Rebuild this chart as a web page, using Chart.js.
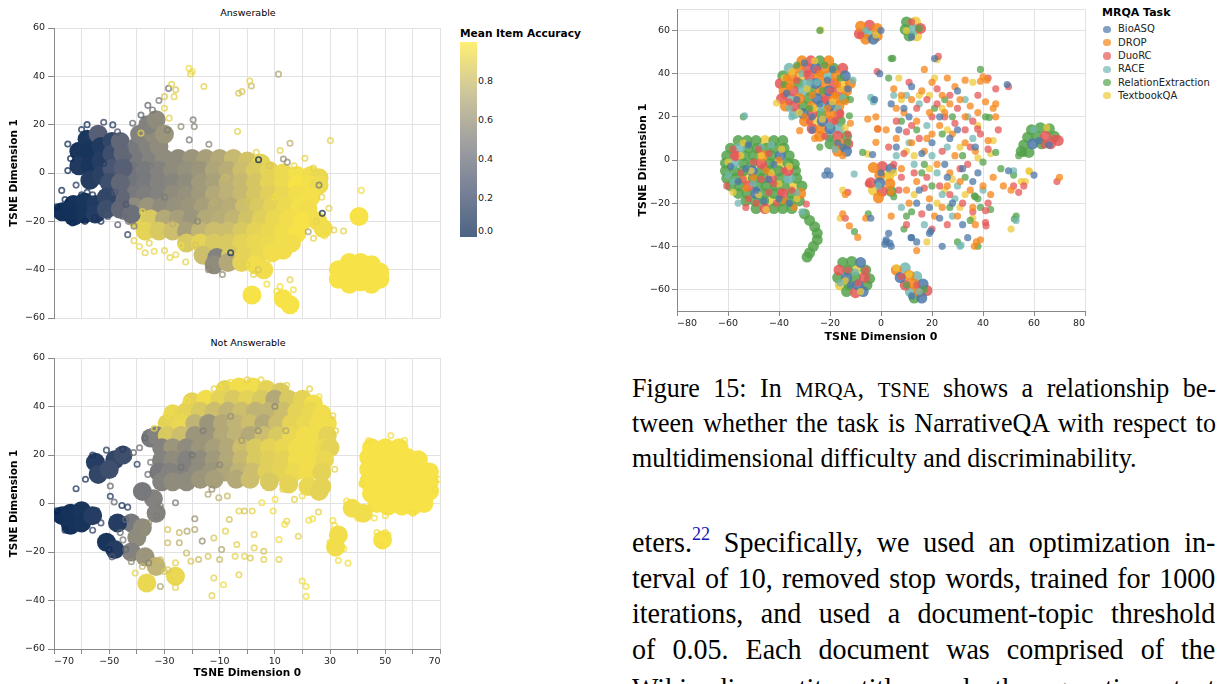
<!DOCTYPE html>
<html>
<head>
<meta charset="utf-8">
<script src="https://cdn.jsdelivr.net/npm/chart.js@4.4.1/dist/chart.umd.min.js"></script>
<style>
  body { margin: 0; background: #fff; width: 1219px; height: 684px; overflow: hidden; position: relative; }
  canvas { position: absolute; }
  .t { position: absolute; font-family: 'DejaVu Sans'; white-space: nowrap; color: #000; }
  .sub { font-size: 9.5px; width: 200px; text-align: center; line-height: 12px; }
  .tick { font-size: 9.5px; line-height: 12px; color: #222; }
  .line { position: absolute; left: 632px; width: 618px; height: 36px; line-height: 36px;
          font-family: 'Liberation Serif'; font-size: 27.5px; color: #000;
          transform: scaleX(0.945); transform-origin: 0 0;
          text-align: justify; text-align-last: justify; overflow: hidden; }
  .line.body { font-size: 29.5px; width: 614px; transform: scaleX(0.95); }
  .line.last { text-align-last: left; }
  .sc { font-size: 22px; }
  sup { font-size: 19px; color: #1515b8; vertical-align: 12px; line-height: 0; }
</style>
</head>
<body>
<div class="t sub" style="left:148px; top:7px;">Answerable</div>
<div class="t sub" style="left:148px; top:337px;">Not Answerable</div>
<canvas id="answerable" width="450" height="330" style="left:0; top:0;"></canvas>
<canvas id="notAnswerable" width="450" height="354" style="left:0; top:330px;"></canvas>
<canvas id="mrqa" width="480" height="350" style="left:612px; top:0;"></canvas>

<div class="t" style="left:460px; top:26px; font-size:10.6px; font-weight:bold; line-height:14px;">Mean Item Accuracy</div>
<div id="colorbar" style="position:absolute; left:460px; top:42px; width:17px; height:195px;"></div>
<div id="colorTicks"></div>

<div class="t" style="left:1102px; top:6px; font-size:11px; font-weight:bold; line-height:14px;">MRQA Task</div>
<div id="taskLegend"></div>

<div class="line" style="top:370px;">Figure 15: In <span class="sc">MRQA</span>, <span class="sc">TSNE</span> shows a relationship be-</div>
<div class="line" style="top:405px;">tween whether the task is NarrativeQA with respect to</div>
<div class="line last" style="top:440px;">multidimensional difficulty and discriminability.</div>
<div class="line body" style="top:524px;">eters.<sup>22</sup> Specifically, we used an optimization in-</div>
<div class="line body" style="top:559.7px;">terval of 10, removed stop words, trained for 1000</div>
<div class="line body" style="top:595.4px;">iterations, and used a document-topic threshold</div>
<div class="line body" style="top:631.1px;">of 0.05. Each document was comprised of the</div>
<div class="line body" style="top:670px;">Wikipedia entity title and the question text</div>

<script>
// ---- tick labels / categories ----
const leftYTicks = [-60, -40, -20, 0, 20, 40, 60];
const leftXLabels = [-70, -50, -30, -10, 10, 30, 50, 70];
const mrqaYTicks = [-70, -60, -40, -20, 0, 20, 40, 60, 70];
const accuracyTicks = [0.0, 0.2, 0.4, 0.6, 0.8];
const mrqaTasks = ['BioASQ', 'DROP', 'DuoRC', 'RACE', 'RelationExtraction', 'TextbookQA'];

// ---- Answerable: [x, y, mean accuracy] ----
const answerableDense = [
  -40,5,.45, -35,5,.5, -30,6,.55, -25,6,.55, -20,6,.6, -15,6,.65, -10,6,.7, -5,6,.78, 0,5,.82, 5,4,.9,
  -42,1,.42, -37,1,.45, -32,1,.5, -27,1,.55, -22,1,.58, -17,1,.6, -12,1,.68, -7,1,.72, -2,1,.8, 3,1,.86, 8,1,.9, 13,0,.93, 18,-1,.96, 23,-1,.95, 26,-2,.92,
  -42,-4,.42, -37,-4,.45, -32,-4,.5, -27,-4,.52, -22,-4,.55, -17,-4,.62, -12,-4,.66, -7,-4,.74, -2,-4,.78, 3,-4,.84, 8,-4,.9, 13,-4,.93, 18,-5,.97, 23,-5,.96, 26,-5,.94,
  -42,-9,.45, -37,-9,.48, -32,-9,.5, -27,-9,.55, -22,-9,.58, -17,-9,.62, -12,-9,.7, -7,-9,.74, -2,-9,.78, 3,-9,.84, 8,-9,.88, 13,-9,.92, 18,-9,.95, 23,-10,.96,
  -41,-14,.55, -36,-14,.6, -31,-14,.55, -26,-14,.58, -21,-14,.6, -16,-14,.65, -11,-14,.7, -6,-14,.72, -1,-14,.8, 4,-14,.85, 9,-14,.9, 14,-14,.93, 19,-14,.96, 22,-15,.95,
  -40,-19,.9, -35,-19,.85, -30,-19,.7, -25,-19,.65, -20,-19,.6, -15,-19,.7, -10,-19,.72, -5,-19,.76, 0,-19,.82, 5,-19,.88, 10,-19,.92, 15,-19,.95, 20,-20,.97,
  -37,-24,.9, -32,-24,.85, -27,-24,.8, -22,-24,.65, -17,-24,.75, -12,-24,.8, -7,-24,.8, -2,-24,.85, 3,-24,.9, 8,-24,.92, 13,-24,.95, 18,-25,.97,
  -22,-29,.85, -17,-29,.9, -12,-29,.85, -7,-29,.85, -2,-29,.9, 3,-29,.92, 8,-29,.93, 13,-29,.95, 16,-29,.95,
  -16,-34,.8, -11,-35,.5, -6,-34,.85, -1,-34,.9, 4,-34,.92, 9,-33,.95, 13,-32,.95,
  -12,-38,.55, -7,-37,.7, -2,-37,.9, 3,-38,.95, 6,-40,.95,
  -67,-16,.02, -63,-13,.03, -63,-18,.02, -59,-12,.05, -59,-17,.04, -55,-13,.08, -55,-17,.1,
  -61,9,.05, -61,3,.08, -58,14,.06, -57,9,.04, -57,3,.05, -57,-3,.1, -54,16,.3, -53,11,.08, -53,5,.1, -53,-1,.12,
  -49,13,.15, -49,8,.2, -49,2,.25, -50,-4,.2,
  -46,13,.35, -45,8,.35, -45,2,.3, -46,-4,.35, -46,-10,.35, -51,-10,.15, -51,-15,.2, -46,-15,.35, -42,-17,.4,
  -40,11,.45, -36,11,.5, -32,11,.55, -39,16,.5, -34,16,.55, -36,20,.5, -33,22,.55, -30,16,.6,
  40.5,-18,.97, 33,-40,.97, 33,-44,.97, 37,-37,.97, 37,-42,.97, 37,-46,.97, 41,-37,.97, 41,-41,.97, 41,-45,.97,
  45,-38,.97, 45,-42,.97, 45,-46,.97, 48,-41,.97, 48,-44,.97,
  1.7,-50.5,.97, 13,-52,.97, 15.5,-54.5,.97, 25.5,-20,.95, 27.5,-23,.95
];
const answerableRings = [
  -28.5,35,.45, -27.4,36.7,.9, -26.5,31.6,.9, -25.9,34.4,.85, -30,31.6,.85, -21.1,43.3,.95, -19.9,42,.95, -20.5,41,.9,
  -15.7,35.8,.9, -3.1,33,.85, -1.9,33.7,.85, 1.5,36,.8, 0.9,38.1,.9, 11.3,40.9,.7,
  -19.6,22,.5, -19.2,19.2,.55, -24,19.2,.6, -28.9,17.8,.5, -28.3,22.7,.9, -30,26.8,.9, -13.9,11.9,.55, -21,13.7,.5,
  -3.5,17.2,.9, -38.5,16.5,.9, -34.3,26.1,.45, -38.5,24,.35, -41.5,20.6,.4, -48.7,19.9,.1, -36,28,.4, -32,30,.5,
  15.5,12.3,.75, 30.1,13.4,.9, 11.9,9.3,.9, 20.9,6.1,.9, 13.1,5.8,.6, 14.5,4.5,.6, 3.3,8.6,.9, 4.1,5.5,.05,
  27.2,-16.7,.1, 22.1,-24.3,.7, 31.4,-23.6,.9, 34.9,-24,.9, 29.6,-14.6,.9, 41.3,-7.2,.95, 26,-5,.5, 28,-26,.95,
  24,-27,.9, 8,3,.85, 17,3,.92, 24,2,.9, 27,-10,.9, 25,-20,.9,
  7.1,-46,.95, 15.5,-44.2,.9, 11.9,-47,.95, 10.7,-49,.95, 16.7,-48.3,.95, 2.3,-42,.9, -0.1,-38,.9, -6,-33,.1,
  4,-40,.85, -9,-42,.6, -14,-40,.55,
  -39.1,-30.4,.92, -35.5,-29,.9, -33.7,-32.4,.92, -30,-32.1,.9, -25.9,-33.8,.92, -22.3,-36.8,.9, -18.7,-29.7,.85,
  -37,-33,.9, -28,-35,.92, -41,-28,.9, -24,-30,.95,
  -67.2,-7.2,.1, -63.3,-20.7,.05, -58.8,-20,.05, -55.3,-18.6,.1, -43.3,-25.5,.2, -46.9,-21.4,.35, -50.5,-18,.3,
  -43.9,-13,.3, -62,-5,.15, -65,1,.05, -64,6,.05, -58,20,.05, -52,21,.2, -47,17,.3, -45,-18,.4, -41,-22,.5,
  -43,-20,.45, -69,-14,.02, -66,-11,.05, -60,-9,.1, -56,-9,.15, -53,-20,.1, -65,12,.05, -60,18,.1,
  -35,3,.5, -24,-6,.6, -12,-12,.75, -30,-10,.5, -18,-20,.55, -8,-2,.8, 0,-12,.85, -38,-16,.9, -27,-21,.75, 10,-10,.95,
  -48,-8,.3, -52,4,.15, -44,10,.4, -58,-8,.1
];

// ---- Not Answerable: [x, y, mean accuracy] ----
const notAnswerableDense = [
  -67,-5,.02, -64,-4,.03, -64,-9,.03, -60,-3,.05, -60,-8,.04, -56,-5,.1,
  -48,18,.15, -45,20,.2, -55,17,.1, -54,12,.15, -50,14,.2,
  -42,-8,.45, -40,-14,.55, -42,-20,.5, -37,-22,.6, -33,-26,.75, -38,-10,.55, -47,-8,.1, -51,-16,.05, -48,-19,.1,
  -34,2,.5, -38,5,.45, -33,-4,.5, -35,27,.45, -36.4,-32.8,.92, -26,-30,.92,
  -8,47,.9, -3,48,.95, 2,48,.95, 7,47,.9, 12,46,.85,
  -20,42,.9, -15,43,.95, -10,43,.9, -5,43,.85, 0,43,.9, 5,43,.85, 10,43,.7, 15,43,.85, 20,43,.9, 24,41,.95,
  -27,37,.92, -22,38,.9, -17,38,.85, -12,38,.8, -7,38,.75, -2,38,.8, 3,38,.75, 8,38,.75, 13,38,.8, 18,38,.9, 23,38,.92, 27,37,.95,
  -29,33,.9, -24,33,.92, -19,33,.75, -14,33,.6, -9,33,.7, -4,33,.75, 1,33,.8, 6,33,.7, 11,33,.8, 16,33,.9, 21,33,.92, 26,33,.95, 29,33,.95,
  -33,28,.5, -29,28,.85, -24,28,.8, -19,28,.6, -14,28,.6, -9,28,.7, -4,28,.75, 1,28,.7, 6,28,.8, 11,28,.85, 16,28,.92, 21,28,.95, 26,28,.95, 29,28,.9,
  -31,23,.5, -27,23,.6, -22,23,.55, -17,23,.6, -12,23,.65, -7,23,.7, -2,23,.8, 3,23,.85, 8,23,.9, 13,23,.92, 18,23,.95, 23,23,.95, 28,23,.93, 30,23,.9,
  -31,18,.5, -27,18,.55, -22,18,.5, -17,18,.55, -12,18,.62, -7,18,.7, -2,18,.78, 3,18,.85, 8,18,.88, 13,18,.9, 18,18,.95, 23,18,.95, 28,18,.92,
  -32,13,.45, -28,13,.5, -23,13,.5, -18,13,.55, -13,13,.6, -8,13,.68, -3,13,.75, 2,13,.8, 7,13,.88, 12,13,.9, 17,13,.93, 22,13,.95, 27,13,.9,
  -31,9,.5, -27,9,.55, -22,9,.55, -17,10,.6, -12,10,.65, -4,10,.7, 1,10,.8, 8,9,.85, 15,8,.9, 22,7,.92, 27,7,.9,
  26,5,.9,
  45,23,.97, 50,23,.97, 55,23,.97,
  44,19,.97, 48,19,.97, 53,19,.97, 58,19,.97, 62,18,.97,
  44,14,.97, 48,14,.97, 53,14,.97, 58,14,.97, 63,14,.97, 66,13,.97,
  44,9,.97, 48,9,.97, 53,9,.97, 58,9,.97, 63,9,.97, 66,9,.97,
  45,4,.97, 49,4,.97, 54,4,.97, 59,4,.97, 63,4,.97, 66,5,.97,
  47,0,.97, 51,-1,.97, 56,-1,.97, 60,-1,.97, 64,0,.97,
  49,-15,.97, 38,-2,.95, 42,-4,.95, 33,-13,.95, 32,-18,.95
];
const notAnswerableRings = [
  -54.5,-3,.15, -53,-8,.2, -56,-11,.2, -66,-11,.05, -69,-3,.02, -58.6,10,.1, -62,6.1,.1, -49.6,7.2,.4,
  -49.6,3,.15, -48.2,0.6,.4, -45.4,-0.8,.05, -43.3,-1.5,.15, -39.9,16.2,.15, -41.2,21,.4, -45.1,22.4,.15,
  -44,-6.6,.4, -46,-12,.4, -44,-19,.4, -49,-22,.3, -42,-24,.6, -35.7,-24.5,.55, -31.5,-23.2,.8, -37,-12,.6,
  -35.7,-8,.6, -32.9,-5.2,.5, -31.5,-1,.5, -45,-15,.5, -50,-19,.05, -56,20,.1, -51,22,.15,
  -28.8,36.2,.95, -21.8,42.5,.95, -12,47.3,.9, -10,48,.95, -6,50,.95, 14.3,48.7,.9, 22.6,47.3,.9, 26,44,.95,
  31,36.2,.9, 32,30,.9, 31.7,14.1,.9, -37,27,.4, -39,23,.45, -33.7,31,.9, -25,37,.9, 0,51,.9, 5,51,.92,
  -36,12,.45, -35,17,.5,
  -40.6,-28.7,.9, -31.5,-34.2,.7, -26,-34.6,.9, -28.8,-27.3,.85, -38,-26,.8, -30,-28,.85,
  -14.2,3.8,.7, -10.3,2.4,.75, -7.2,3.1,.8, -12.8,5.9,.6, -26,0.3,.5, -19,-6.3,.6, -19,-10.7,.7, -24.6,-12,.8,
  -28.8,-10.7,.85, -28.8,-16.2,.8, -24.6,-16.2,.75, -21.8,-11.4,.7, -22,-20.4,.8, -20.4,-23.8,.85, -17.6,-23.1,.8,
  -26,-24.5,.9, -16.3,-15.5,.6, -12.1,-14.2,.85, -7.9,-11.4,.9, -6.5,-6.6,.85, -9.3,-19,.7, -10,-23.1,.8,
  -14.2,-21.8,.85, -12.1,-30.7,.9, -8.6,-33.5,.95, -12.8,-38,.9, -3,-3.1,.9, -1,-3.1,.85, 1.8,-3.1,.9,
  -3.8,-16.9,.9, -4.4,-21.8,.9, -3,-29.4,.9, 2.5,-12.8,.9, -1,-21.8,.9, 1.1,-22.5,.85, 2.5,-18.3,.9, 6,-19.7,.85,
  5.3,0.3,.95, 9.4,-3.1,.95, 10.1,1.7,.95, 14.3,-7.3,.9, 13.6,-8.6,.95, 18.5,-13.5,.9, 11.5,-14.9,.95,
  11.5,-23.1,.9, 6,-23.1,.9, 22.3,-6.9,.95, 23.7,-6.3,.95, 25.8,-3.5,.9, 19.9,-32,.95, 21.3,-34.2,.95,
  21.3,-38.3,.95, 17.1,1.7,.9, 19.9,3.1,.95, 12.9,5.9,.9,
  41.5,8,.95, 44,26,.95, 52,28,.95, 57,26,.95, 69.5,10,.95, 68,6,.95, 60,-4,.95, 50,-5,.95,
  35,-18.7,.95, 33,-23.5,.95, 36.5,-24.6,.95, 31,-7,.95, 31.5,-9,.95, 34,-15,.95, 30,-16,.95, 47,-12,.95,
  51,-13,.95, 36,1,.95, 46,-6,.95, 40,-6,.95, 44,-2,.95, 48,-17,.95, 50,-12,.95,
  -16,30,.5, -6,36,.6, 4,30,.6, -20,20,.45, -10,16,.55, 10,40,.55, 14,30,.7, -2,26,.65, -24,15,.45
];

// ---- MRQA: [x, y] per task; *Dense = packed cluster cores ----
const bioasqDense = [
  -25.5,42.5, -14,39, -25.5,35.5, -20.5,32, -25,28.5, -20,25, -30.5,21.5, -23,18, -20,14.5, -13.5,4,
  -50.5,-5, -49,-15.5, -39.5,2,
  -3,56, -8,-47.5, -13.5,-54.5, -9,-58, -7,-61, 7.5,-54.5, 16.5,-57.5, 16,-64, 4,-4, -0.5,-10.5, 59.5,7.5
];
const dropDense = [
  -31,46, -20.5,46, -32.5,42.5, -22,42.5, -35,39, -24.5,39, -17.5,39, -36,35.5, -22,35.5, -12,35.5, -38,32, -24,32,
  -13.5,32, -32,28.5, -18,28.5, -37.5,25, -27,25, -16.5,25, -20,21.5, -30,18, -23.5,14.5, -24,11, -16.5,7.5, -17,4,
  -46.5,2, -31.5,-15.5,
  -8,62, -1.5,61, -1.5,57.5, -6,56, 6,-51, 11,-53.5, 13,-57.5, 15,-61, -3,-3.5, -0.5,-7, 3.5,-11, -1,-17.5
];
const duorcDense = [
  -27.5,46, -29,42.5, -15,42.5, -28,39, -39.5,35.5, -18.5,35.5, -34.5,32, -17,32, -39,28.5, -21.5,28.5, -34,25,
  -27,21.5, -16.5,21.5, -19.5,18, -27,14.5, -17,11, -13,7.5,
  -57,2, -47,-1.5, -43,-8.5, -52,-12, -38.5,-15.5, -45.5,-22.5, -36.5,-5,
  -4.5,62.5, -8.5,58.5, 15.5,61, -16.5,-51, -6.5,-54.5, -10,-61.5, 9.5,-58, 18,-60.5, 0.5,-3, -4,-10.5, 0.5,-14.5,
  64.5,11, 66.5,7.5, 69.5,9
];
const raceDense = [
  -36,42.5, -21,39, -29,35.5, -31,32, -35.5,28.5, -23.5,25, -34,21.5, -16.5,14.5, -20.5,11,
  -55.5,5.5, -36,-8.5, -57.5,-1.5,
  -5,58.5, 13,60.5, 9.5,-50, 14,-54, 11.5,-61
];
const relexDense = [
  -24,46, -18.5,42.5, -38.5,39, -32.5,35.5, -27.5,32, -28.5,28.5, -14.5,28.5, -30.5,25, -23.5,21.5, -16,18, -13.5,11, -20,7.5,
  -56,9, -52.5,9, -49,9, -42,9, -38.5,9,
  -59,5.5, -52,5.5, -48.5,5.5, -45,5.5, -41.5,5.5, -38,5.5,
  -60.5,2, -53.5,2, -50,2, -43,2, -36,2,
  -61,-1.5, -54,-1.5, -50.5,-1.5, -43.5,-1.5, -36.5,-1.5, -34,-2,
  -61,-5, -57.5,-5, -54,-5, -47,-5, -43.5,-5, -40,-5, -33.5,-5,
  -60.5,-8.5, -57,-8.5, -50,-8.5, -46.5,-8.5, -39.5,-8.5, -33,-8.5,
  -59,-12, -55.5,-12, -48.5,-12, -45,-12, -41.5,-12, -38,-12, -31,-12,
  -56,-15.5, -52.5,-15.5, -45.5,-15.5, -42,-15.5, -35,-15.5,
  -53,-19, -49.5,-19, -46,-19, -39,-19, -35.5,-19, -32,-19,
  -49,-22.5, -42,-22.5, -38.5,-22.5, -35,-22.5,
  -30,-25, -28,-28, -26,-31, -25,-34, -25,-37, -26.5,-40, -28,-43, -29,-45,
  10,64, 9.5,60.5, 11,57.5,
  -15,-47.5, -11.5,-47, -13,-51, -6,-51, -17,-54.5, -10,-54.5, -4.5,-55, -12.5,-58, -5.5,-58, -13.5,-61, 13,-64,
  4,-14.5,
  59,14, 62.5,15, 66,14.5, 57.5,10.5, 61,11, 68,11, 56,7, 63,7.5, 55,4, 58,3.5
];
const textbookDense = [
  -31.5,39, -15,35.5, -26.5,18,
  -45.5,9, -53.5,-8.5, -40,-1.5, -42.5,-19, -34.5,-12,
  13.5,64, 14,57.5, -9.5,-51, -16,-58, 3,-7.5, -3,-14
];

const bioasqPoints = [
  -56,-10, -46,-19, -42,-2, -52,7, -36,-20, -59,-3, -49,-14, -44,-9, -53,-4, -40,-18,
  -30,45, -37,31, -24,26, -13,33, -27,14, -17,8, -21,37, -33,28, -19,42, -27,20, -15,6,
  -0.5,40, -2.5,28, -3.3,2.5, -21,-5, -20,-7, -22,-7, -4,-27, 21,47, 49.5,35, 62,9, 66,7, -12,-58, 12,-63, 12,57, 0,60, 0,-6,
  2,-37, 3.5,-38.5, 1.5,-39,
  4,26, 7,14, 11,20, 15,-14, 19,-22, 23,-27, 28,-20, 32,-4, 20,8, 25,-2, 16,3, 38,-6, 3,-34, 2,-38, 4,-40, 12,-36,
  19,-34, 24,-40, 32,-30, 37,6, 9,24, 27,10, 60,-7, 50,-5, 12,34, 30,32, 14,-38, 34,-36, 19.5,-33, 11.8,-36,
  6,6, 23,20, 30,14, 14,-20, 36,-10, 26,-8
];
const dropPoints = [
  -45,-5, -53,-13, -40,0, -34,-22, -50,-8, -38,-19,
  -31.9,13.6, -37,38, -27,30, -17,35, -21,24, -15,2, -12,17, -36,34, -24,40, -18,30, -30,20, -26,10, -14,27,
  -5.2,19, -1.3,14.4, -2,8.2, -14,-16, -15,-25, -12.4,-30.5, -9.1,-35.9, -6,-27, 40,38.5, 41.5,37, 39,36.5, 4,-15,
  5,33, 8,30, 12,28, 16,32, 20,36, 24,30, 27,26, 31,28, 35,25, 38,22, 41,27, 44,24, 9,22, 14,18, 19,22, 23,16,
  28,12, 33,8, 37,4, 12,8, 17,4, 22,-2, 27,-6, 31,-10, 35,-14, 40,-12, 43,-16, 8,-4, 14,-10, 19,-18, 24,-22,
  30,-26, 37,-30, 39,-37, 14,-42, 4,-26, 11,-20, 2,14, 6,10, 26,38, 33,37, 45,20, 44,-8, 29,2, 20,12, 25,22,
  -2,20, 48,-12, 70,-8, 36,-22, 17,42, 51,-14, 45,26, 42,9, 37.4,-38, 36.6,-40,
  6,24, 18,10, 26,-12, 33,20, 21,-26, 10,-14, 29,34
];
const duorcPoints = [
  -60.5,-12, -55,-6, -50,-1, -47,-9, -44,-15, -52,-18, -41,-20, -57,2, -38,-5, -29.3,-20.4, -48,5, -35,-14, -53,-22, -44,3,
  -58,5, -46,-3, -39,-15, -54,-9, -42,-11, -49,-20,
  -33,37, -25,42, -20,32, -36,27, -16,22, -28,18, -22,11, -29,40, -22,28, -38,30, -18,18, -13,12,
  -1.5,41, -1.3,14.4, -13,-15, -14,-27, 22.5,48, 42,38, 50,34, 68,10, 64,7, -13,-51, -9,-57, -6,-51, 8,-54, 14,-58,
  -8,58, 12,64, -5,-11,
  3,6, 6,18, 10,13, 14,24, 18,28, 22,33, 25,20, 29,17, 33,14, 36,18, 39,12, 42,5, 5,-2, 9,3, 13,-6, 18,-8,
  23,-12, 27,-16, 32,-20, 36,-24, 41,-29, 16,-25, 20,-32, 24,4, 30,24, 38,30, 42,-20, 10,-30, 7,-14, 26,-30,
  34,-2, 15,10, 20,20, 45,33, 52,-12, 54,-15, 56,-12, 69,-10, 46,14, 11,36, 37.9,14.4, 41,-23.5, 41.2,-30.5,
  12,16, 27,30, 31,-4, 17,-13, 8,-8, 35,6, 22,26
];
const racePoints = [
  -50,-11, -43,7, -37,-9, -56,-20, -31,-24, -60,-7, -47,6, -58,-10, -33,-15,
  -31,40, -25,36, -15,29, -35,20, -20,16, -11,37, -18,5, -28,36, -36,24, -17,24,
  -53.5,20.5, -3,27, -10.5,-6.5, -6,60, 15,-61, -1,-12, -10,-52, -16,-57, 60,14, -4,29,
  6,2, 13,-2, 18,16, 22,-6, 26,6, 30,-12, 34,20, 28,-26, 31,-40, 10,30, 17,-30, 40,-14, 53,-28, -3,28, 15,26,
  36,10, 8,-22, 24,-16, 31.4,-39.4, 52,-5,
  20,2, 11,8, 29,-18, 33,28, 5,30
];
const relexPoints = [
  -38,35, -22,44, -28,24, -12,28, -24,6, -12.4,20.5, -16,38, -13,8, -33,44, -23,32, -20,10,
  -24,60, -54,20, -7.2,3.5, -10.4,-33.2, -5,-25, 4.6,47.1, 17,-60, 10,-58, 15,61,
  4,47, 8,18, 12,-24, 17,-2, 21,24, 27,-22, 33,-8, 37,-17, 39,-22, 43,-23, 39,42, 41,20, 40,-1, 47,-4, 52,-7,
  38,-40, 9,-32, 5,-17, 3,38, 30,-38, 20,-12, 14,14, 25,28, 32,2, 53,-26, 56,3, 36.6,-16.6, 38,-18, 52.3,-27.4,
  45,3.5, 42.5,19.8, 55.6,3.5, 54,2,
  24,12, 16,-6, 35,-28, 10,-26, 28,20
];
const textbookPoints = [
  -54,8, -47,2, -40,-11, -58,-15, -45,-23, -39,5, -51,-5, -33,-18, -60,-1, -43,-6, -48,-16, -36,-3, -55,2,
  -35,41, -29,33, -19,27, -23,19, -14,15, -32,22, -41,26.4, -26,46, -26,24, -38,38, -16,33,
  -23.6,60.3, -5.2,2.8, -15,-14, -16,-27, 22,46.5, -2,58, 10,60, 65,15, -14,-56, -8,-61, 6,-50, 11,-53, 3,-7,
  7,38, 10,4, 15,30, 19,-4, 24,24, 28,-9, 33,-16, 38,1, 43,3, 36,36, 31,6, 22,-20, 13,-16, 26,14, 44,9,
  55,-10, 58,-5, 51,-32, 5,-6, 8,28, 18,-38, 36,-27, 21,38, 56.6,-10, 58.2,-5.4,
  19,30, 13,2, 31,-22, 25,-14, 38,16
];

// ---- styling helpers ----
const FONT = 'DejaVu Sans';
Chart.defaults.font.family = FONT;
const cividisStops = [
  [0.00, 0, 34, 78],
  [0.25, 65, 77, 107],
  [0.50, 124, 123, 120],
  [0.75, 188, 175, 111],
  [1.00, 254, 232, 56]
];
const taskColors = ['#4c78a8', '#f58518', '#e45756', '#72b7b2', '#54a24b', '#eeca3b'];

function cividisRGB(v) {
  v = Math.max(0, Math.min(1, v));
  let i = 1;
  while (i < cividisStops.length - 1 && v > cividisStops[i][0]) i++;
  const p = cividisStops[i - 1], q = cividisStops[i];
  const t = (v - p[0]) / (q[0] - p[0]);
  return [1, 2, 3].map(k => p[k] + (q[k] - p[k]) * t);
}
function cividis(v, a) {
  const c = cividisRGB(v).map(Math.round);
  return 'rgba(' + c[0] + ',' + c[1] + ',' + c[2] + ',' + a + ')';
}
// opaque version pre-blended on white, so packed cores do not show overlaps
function cividisSolid(v, a) {
  const c = cividisRGB(v).map(x => Math.round(x * a + 255 * (1 - a)));
  return 'rgb(' + c[0] + ',' + c[1] + ',' + c[2] + ')';
}
function withAlpha(hex, a) {
  const n = parseInt(hex.slice(1), 16);
  return 'rgba(' + (n >> 16) + ',' + ((n >> 8) & 255) + ',' + (n & 255) + ',' + a + ')';
}
function toXYV(flat) {
  const out = [];
  for (let i = 0; i < flat.length; i += 3) out.push({ x: flat[i], y: flat[i + 1], v: flat[i + 2] });
  return out;
}
function toXY(flat) {
  const out = [];
  for (let i = 0; i < flat.length; i += 2) out.push({ x: flat[i], y: flat[i + 1] });
  return out;
}
function fmt(v) {
  return v < 0 ? '\u2212' + Math.abs(v) : String(v);
}

const baseOptions = {
  responsive: false,
  animation: false,
  events: [],
  plugins: { legend: { display: false }, tooltip: { enabled: false } }
};

function accuracyChart(id, dense, rings, showX) {
  return new Chart(document.getElementById(id), {
    type: 'scatter',
    data: {
      datasets: [{
        data: toXYV(rings),
        order: 0,
        pointRadius: 2.7,
        pointBorderWidth: 1.7,
        pointBackgroundColor: 'rgba(0,0,0,0)',
        pointBorderColor: c => cividis(c.raw.v, 0.75)
      }, {
        data: toXYV(dense),
        order: 1,
        pointRadius: 9.5,
        pointBorderWidth: 0,
        pointBackgroundColor: c => cividisSolid(c.raw.v, 0.95)
      }]
    },
    options: Object.assign({}, baseOptions, {
      layout: { padding: { left: 0, top: 28, right: 7, bottom: showX ? 0 : 12 } },
      scales: {
        x: {
          type: 'linear', min: -70, max: 70,
          ticks: {
            display: showX, stepSize: 10, align: 'inner', padding: 2, maxRotation: 0,
            color: '#222', font: { size: 9.5 },
            callback: v => leftXLabels.includes(v) ? fmt(v) : ''
          },
          grid: { color: '#e2e2e2', drawTicks: showX, tickLength: 5, tickColor: '#888' },
          border: { display: showX, color: '#888' },
          title: {
            display: showX, text: 'TSNE Dimension 0', color: '#000',
            font: { size: 10.5, weight: 'bold' }, padding: { top: 0, bottom: 4 }
          },
          afterFit: s => { s.height = showX ? 35 : 0; }
        },
        y: {
          min: -60, max: 60,
          ticks: { stepSize: 20, padding: 3, color: '#222', font: { size: 9.5 }, callback: v => leftYTicks.includes(v) ? fmt(v) : '' },
          grid: { color: '#e2e2e2', tickLength: 6, tickColor: '#888' },
          border: { color: '#888' },
          title: {
            display: true, text: 'TSNE Dimension 1', color: '#000',
            font: { size: 10.5, weight: 'bold' }, padding: { top: 8, bottom: 0 }
          },
          afterFit: s => { s.width = 54; }
        }
      }
    })
  });
}

accuracyChart('answerable', answerableDense, answerableRings, false);
accuracyChart('notAnswerable', notAnswerableDense, notAnswerableRings, true);

// ---- MRQA task chart ----
const taskPoints = [bioasqPoints, dropPoints, duorcPoints, racePoints, relexPoints, textbookPoints];
const taskDense = [bioasqDense, dropDense, duorcDense, raceDense, relexDense, textbookDense];
const mrqaDatasets = taskPoints.map((p, i) => ({
  label: mrqaTasks[i], data: toXY(p), order: 0,
  pointRadius: 3.6, pointBorderWidth: 0, pointBackgroundColor: withAlpha(taskColors[i], 0.75)
})).concat(taskDense.map((p, i) => ({
  label: mrqaTasks[i], data: toXY(p), order: 1,
  pointRadius: 5.5, pointBorderWidth: 0, pointBackgroundColor: withAlpha(taskColors[i], 0.85)
})));

new Chart(document.getElementById('mrqa'), {
  type: 'scatter',
  data: { datasets: mrqaDatasets },
  options: Object.assign({}, baseOptions, {
    layout: { padding: { left: 0, top: 9, right: 7, bottom: 0 } },
    scales: {
      x: {
        type: 'linear', min: -80, max: 80,
        ticks: { stepSize: 20, align: 'inner', padding: 2, maxRotation: 0, color: '#222', font: { size: 9.5 }, callback: fmt },
        grid: { color: '#e2e2e2', tickLength: 5, tickColor: '#888' },
        border: { color: '#888' },
        title: { display: true, text: 'TSNE Dimension 0', color: '#000', font: { size: 11, weight: 'bold' }, padding: { top: 0, bottom: 6.4 } },
        afterFit: s => { s.height = 39; }
      },
      y: {
        min: -70, max: 70,
        afterBuildTicks: s => { s.ticks = mrqaYTicks.map(v => ({ value: v })); },
        ticks: { padding: 2, color: '#222', font: { size: 9.5 }, callback: v => Math.abs(v) === 70 ? '' : fmt(v) },
        grid: { color: '#e2e2e2', tickLength: 5, tickColor: c => (c.tick && Math.abs(c.tick.value) === 70) ? 'rgba(0,0,0,0)' : '#888' },
        border: { color: '#888' },
        title: { display: true, text: 'TSNE Dimension 1', color: '#000', font: { size: 11, weight: 'bold' }, padding: { top: 24.4, bottom: 0 } },
        afterFit: s => { s.width = 65; }
      }
    }
  })
});

// ---- colour bar legend ----
const bar = document.getElementById('colorbar');
bar.style.background = 'linear-gradient(to top, ' +
  cividisStops.map(s => cividis(s[0], 0.7) + ' ' + (s[0] * 100) + '%').join(', ') + ')';
const barTop = 42, barHeight = 195;
const tickHolder = document.getElementById('colorTicks');
accuracyTicks.forEach(v => {
  const d = document.createElement('div');
  d.className = 't tick';
  d.textContent = v.toFixed(1);
  let cy = barTop + barHeight * (1 - v);
  cy = Math.min(cy, barTop + barHeight - 6);
  d.style.left = '478px';
  d.style.top = (cy - 6) + 'px';
  tickHolder.appendChild(d);
});

// ---- task legend ----
const legendHolder = document.getElementById('taskLegend');
mrqaTasks.forEach((name, i) => {
  const cy = 29.3 + i * 13.3;
  const dot = document.createElement('div');
  dot.style.cssText = 'position:absolute; left:1103.3px; top:' + (cy - 3.7) + 'px; width:7.4px; height:7.4px; border-radius:50%; background:' + withAlpha(taskColors[i], 0.7);
  legendHolder.appendChild(dot);
  const lab = document.createElement('div');
  lab.className = 't';
  lab.style.cssText = 'left:1118px; top:' + (cy - 6) + 'px; font-size:10px; line-height:12px; color:#222;';
  lab.textContent = name;
  legendHolder.appendChild(lab);
});
</script>
</body>
</html>
